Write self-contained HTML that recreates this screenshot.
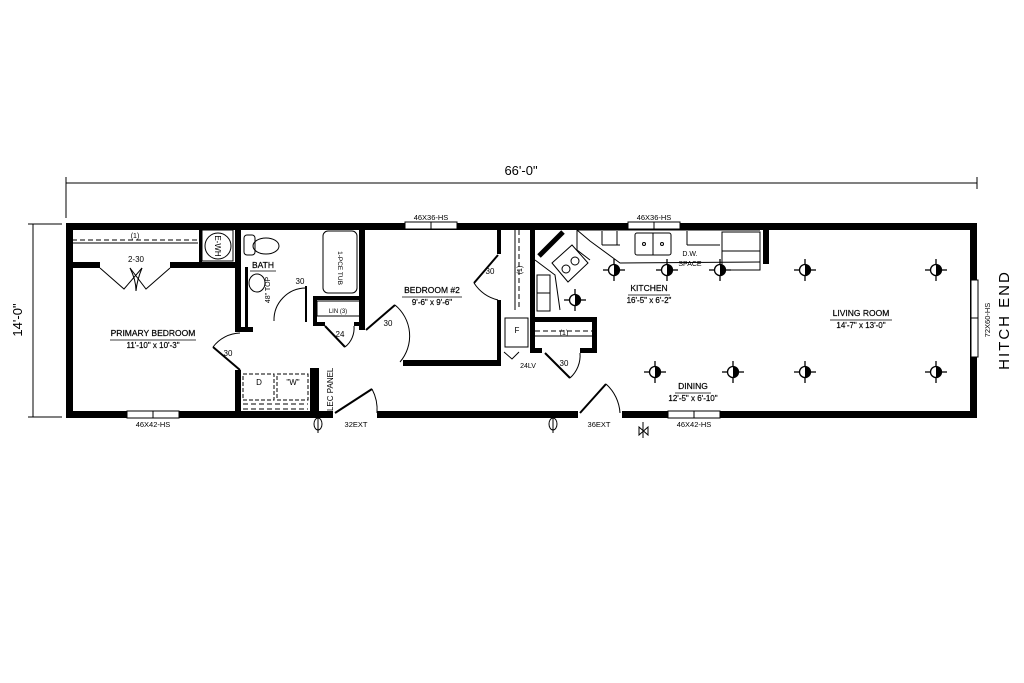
<!DOCTYPE html>
<html><head><meta charset="utf-8"><style>
html,body{margin:0;padding:0;background:#fff;}
svg{display:block;}
text{font-family:"Liberation Sans",sans-serif;fill:#000;}
</style></head><body>
<svg width="1024" height="683" viewBox="0 0 1024 683" xmlns="http://www.w3.org/2000/svg">
<defs>
<g id="lt"><circle r="5.5" fill="#fff" stroke="#000" stroke-width="1.3"/><path d="M0,-5.5 A5.5,5.5 0 0 1 0,5.5 Z" fill="#000"/><line x1="-11" y1="0" x2="-5.5" y2="0" stroke="#000" stroke-width="1.3"/><line x1="5.5" y1="0" x2="11" y2="0" stroke="#000" stroke-width="1.3"/><line x1="0" y1="-11" x2="0" y2="-5.5" stroke="#000" stroke-width="1.3"/><line x1="0" y1="5.5" x2="0" y2="11" stroke="#000" stroke-width="1.3"/></g>
</defs>
<g stroke="#000" stroke-width="1">
<line x1="66" y1="183" x2="977" y2="183"/>
<line x1="66" y1="177" x2="66" y2="218"/>
<line x1="977" y1="177" x2="977" y2="189"/>
<line x1="33" y1="224" x2="33" y2="417"/>
<line x1="28" y1="224" x2="62" y2="224"/>
<line x1="28" y1="417" x2="62" y2="417"/>
</g>
<text x="521" y="175" font-size="13" text-anchor="middle">66'-0"</text>
<text transform="translate(22,320) rotate(-90)" font-size="13" text-anchor="middle">14'-0"</text>
<text transform="translate(1009,320) rotate(-90)" font-size="15" text-anchor="middle" letter-spacing="2">HITCH END</text>

<rect x="69.5" y="226.5" width="904" height="188" fill="none" stroke="#000" stroke-width="7"/>
<rect x="333" y="410" width="44" height="9" fill="#fff"/>
<rect x="578" y="410" width="44" height="9" fill="#fff"/>

<g fill="#fff" stroke="#000" stroke-width="1">
<rect x="405" y="222" width="52" height="7"/><line x1="431" y1="222" x2="431" y2="229"/>
<rect x="628" y="222" width="52" height="7"/><line x1="654" y1="222" x2="654" y2="229"/>
<rect x="127" y="411" width="52" height="7"/><line x1="153" y1="411" x2="153" y2="418"/>
<rect x="668" y="411" width="52" height="7"/><line x1="694" y1="411" x2="694" y2="418"/>
<rect x="971" y="280" width="7" height="77"/><line x1="971" y1="318" x2="978" y2="318"/>
</g>
<g font-size="7.5" text-anchor="middle">
<text x="431" y="220">46X36-HS</text>
<text x="654" y="220">46X36-HS</text>
<text x="153" y="427">46X42-HS</text>
<text x="694" y="427">46X42-HS</text>
<text x="356" y="427">32EXT</text>
<text x="599" y="427">36EXT</text>
<text transform="translate(990,320) rotate(-90)">72X60-HS</text>
</g>

<g fill="#000">
<rect x="66" y="262" width="34" height="6"/>
<rect x="170" y="262" width="68" height="6"/>
<rect x="199" y="226" width="3" height="36"/>
<rect x="235" y="224" width="6" height="108"/>
<rect x="235" y="370" width="6" height="46"/>
<rect x="235" y="327" width="18" height="5"/>
<rect x="245" y="267" width="3" height="62"/>
<rect x="359" y="224" width="6" height="106"/>
<rect x="313" y="296" width="52" height="4"/>
<rect x="313" y="296" width="4" height="30"/>
<rect x="313" y="322" width="12" height="4"/>
<rect x="354" y="322" width="11" height="4"/>
<rect x="403" y="360" width="98" height="6"/>
<rect x="497" y="224" width="4" height="30"/>
<rect x="497" y="300" width="4" height="66"/>
<rect x="530" y="224" width="5" height="128"/>
<rect x="530" y="317" width="67" height="5"/>
<rect x="592" y="317" width="5" height="36"/>
<rect x="530" y="348" width="12" height="5"/>
<rect x="580" y="348" width="17" height="5"/>
<rect x="763" y="226" width="6" height="38"/>
</g>

<g stroke="#000" stroke-width="1" fill="none">
<line x1="72" y1="240" x2="198" y2="240" stroke-dasharray="5,3"/>
<line x1="72" y1="243" x2="198" y2="243"/>
<rect x="202" y="230" width="31" height="31"/>
<circle cx="218" cy="246" r="13"/>
<text x="218" y="246" font-size="8" transform="rotate(90 218 246)" text-anchor="middle" dy="3" stroke="none" fill="#000">E-WH</text>
<path d="M100,268 L124,289 L142,268 M170,268 L146,289 L130,268"/>
<path d="M130,268 Q136,280 136,291 Q137,280 142,268"/>
<rect x="244" y="235" width="11" height="20" rx="3"/>
<ellipse cx="266" cy="246" rx="13" ry="8"/>
<ellipse cx="257" cy="283" rx="8" ry="9"/>
<rect x="323" y="231" width="34" height="62" rx="5"/>
<rect x="317" y="301" width="43" height="15"/>
<path d="M306,286 L306,322" stroke-width="2"/>
<path d="M306,288 A32,32 0 0 0 274,321"/>
<path d="M240,370 L213,347" stroke-width="2"/>
<path d="M213,347 A35,35 0 0 1 240,333"/>
<path d="M325,326 L345,347" stroke-width="2"/>
<path d="M345,347 A24,24 0 0 0 354,326"/>
<rect x="243" y="374" width="31" height="26" stroke-dasharray="4,2"/>
<rect x="277" y="374" width="31" height="26" stroke-dasharray="4,2"/>
<line x1="243" y1="404" x2="308" y2="404" stroke-dasharray="5,3"/>
<line x1="243" y1="409" x2="308" y2="409" stroke-dasharray="5,3"/>
<path d="M335,413 L372,389" stroke-width="2"/>
<path d="M372,389 A44,44 0 0 1 377,413"/>
<path d="M498,255 L474,283" stroke-width="2"/>
<path d="M474,283 A40,40 0 0 0 498,300"/>
<path d="M366,330 L395,305" stroke-width="2"/>
<path d="M395,305 A40,40 0 0 1 400,362"/>
<line x1="519" y1="230" x2="519" y2="310" stroke-dasharray="5,3"/>
<line x1="515" y1="230" x2="515" y2="310"/>
<rect x="505" y="318" width="23" height="29"/>
<path d="M504,352 L512,359 L519,352"/>
<line x1="535" y1="331" x2="592" y2="331" stroke-dasharray="5,3"/>
<line x1="535" y1="336" x2="592" y2="336"/>
<path d="M545,353 L570,378" stroke-width="2"/>
<path d="M570,378 A30,30 0 0 0 580,353"/>
<path d="M580,413 L606,384" stroke-width="2"/>
<path d="M606,384 A42,42 0 0 1 620,413"/>
<path d="M577,230 L577,250 L590,260 M577,230 L760,230"/>
<path d="M577,230 L590,241 L620,263 L760,262"/>
<path d="M535,260 L555,275 L560,310 M555,275 L560,310"/>
<rect x="537" y="275" width="13" height="36"/>
<line x1="537" y1="293" x2="550" y2="293"/>
<path d="M552,263 L572,245 L588,263 L568,282 Z"/>
<circle cx="566" cy="269" r="4"/><circle cx="575" cy="261" r="4"/>
<line x1="602" y1="231" x2="602" y2="245"/>
<line x1="617" y1="231" x2="617" y2="245"/>
<line x1="602" y1="245" x2="620" y2="245"/>
<rect x="635" y="233" width="36" height="22" rx="2"/>
<line x1="653" y1="233" x2="653" y2="255"/>
<circle cx="644" cy="244" r="1.5"/><circle cx="662" cy="244" r="1.5"/>
<line x1="687" y1="231" x2="687" y2="245"/>
<line x1="687" y1="245" x2="720" y2="245"/>
<rect x="722" y="232" width="38" height="38"/>
<line x1="722" y1="251" x2="760" y2="251"/>
</g>
<line x1="539" y1="256" x2="563" y2="232" stroke="#000" stroke-width="5"/>
<rect x="310" y="368" width="9" height="48" fill="#000"/>

<g>
<use href="#lt" x="614" y="270"/>
<use href="#lt" x="667" y="270"/>
<use href="#lt" x="720" y="270"/>
<use href="#lt" x="575" y="300"/>
<use href="#lt" x="805" y="270"/>
<use href="#lt" x="936" y="270"/>
<use href="#lt" x="655" y="372"/>
<use href="#lt" x="733" y="372"/>
<use href="#lt" x="805" y="372"/>
<use href="#lt" x="936" y="372"/>
</g>
<g stroke="#000" stroke-width="1" fill="none">
<ellipse cx="318" cy="424" rx="4" ry="6"/><line x1="318" y1="416" x2="318" y2="433"/>
<ellipse cx="553" cy="424" rx="4" ry="6"/><line x1="553" y1="416" x2="553" y2="433"/>
<path d="M639,427 L648,435 L648,427 L639,435 Z"/><line x1="643" y1="422" x2="643" y2="438"/>
</g>

<g font-size="8.5" text-anchor="middle" stroke="#000" stroke-width="0.2">
<text x="153" y="336">PRIMARY BEDROOM</text>
<text x="153" y="348" font-size="8">11'-10" x 10'-3"</text>
<text x="263" y="268">BATH</text>
<text x="432" y="293">BEDROOM #2</text>
<text x="432" y="305" font-size="8">9'-6" x 9'-6"</text>
<text x="649" y="291">KITCHEN</text>
<text x="649" y="303" font-size="8">16'-5" x 6'-2"</text>
<text x="693" y="389">DINING</text>
<text x="693" y="401" font-size="8">12'-5" x 6'-10"</text>
<text x="861" y="316">LIVING ROOM</text>
<text x="861" y="328" font-size="8">14'-7" x 13'-0"</text>
</g>
<g stroke="#000" stroke-width="0.8">
<line x1="110" y1="340" x2="196" y2="340"/>
<line x1="250" y1="271" x2="276" y2="271"/>
<line x1="402" y1="297" x2="462" y2="297"/>
<line x1="628" y1="295" x2="670" y2="295"/>
<line x1="675" y1="393" x2="711" y2="393"/>
<line x1="830" y1="320" x2="892" y2="320"/>
</g>
<g font-size="8" text-anchor="middle">
<text x="136" y="262">2-30</text>
<text x="135" y="238" font-size="7">(1)</text>
<text x="300" y="284">30</text>
<text x="228" y="356">30</text>
<text x="340" y="337">24</text>
<text x="338" y="313" font-size="6">LIN (3)</text>
<text x="388" y="326">30</text>
<text x="490" y="274">30</text>
<text x="517" y="333">F</text>
<text x="528" y="368" font-size="7">24LV</text>
<text x="564" y="335" font-size="7">(1)</text>
<text x="564" y="366">30</text>
<text x="259" y="385">D</text>
<text x="293" y="385">"W"</text>
<text x="690" y="256" font-size="7">D.W.</text>
<text x="690" y="266" font-size="7">SPACE</text>
<text transform="translate(333,392) rotate(-90)" font-size="8">ELEC PANEL</text>
<text transform="translate(338,268) rotate(90)" font-size="6.5">1-PCE TUB</text>
<text transform="translate(270,290) rotate(-90)" font-size="7">48" TOP</text>
<text transform="translate(522,270) rotate(-90)" font-size="7">(1)</text>
</g>
</svg>
</body></html>
